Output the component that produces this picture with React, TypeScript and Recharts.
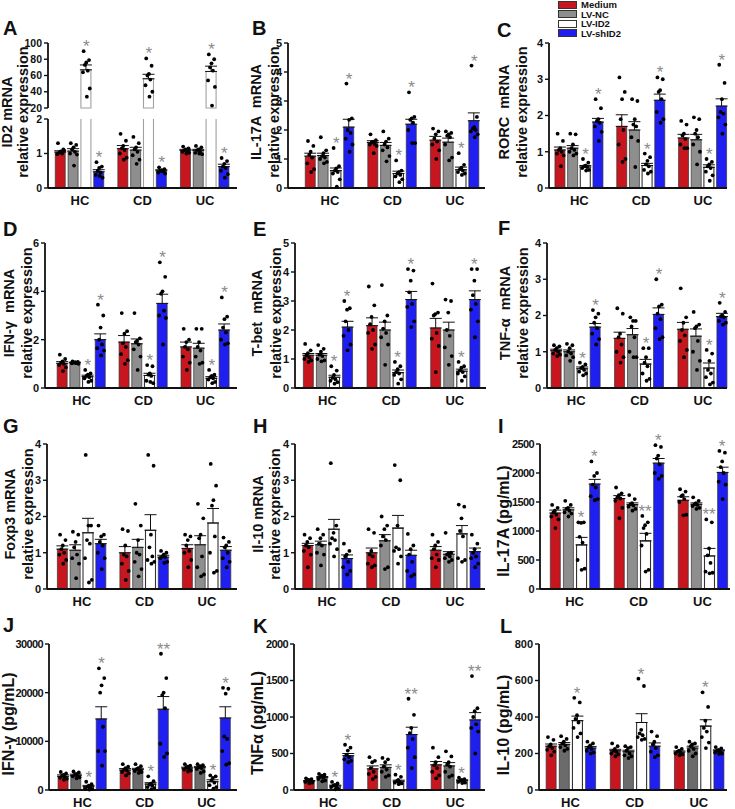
import React from "react";
import { ComposedChart, Bar, Cell, ErrorBar, Scatter, XAxis, YAxis } from "recharts";

const groups = ["HC", "CD", "UC"];
const seriesNames = ["Medium", "LV-NC", "LV-ID2", "LV-shID2"];

// each panel: [group][series] means, SEM, individual points, significance marks

// A  ID2 mRNA
const id2Mean = [[1.04, 1.07, 67, 0.47], [1.14, 1.1, 56, 0.5], [1.09, 1.09, 65, 0.62]];
const id2Sem = [[0.04, 0.07, 6, 0.06], [0.09, 0.08, 5.5, 0.03], [0.03, 0.03, 6.5, 0.07]];
const id2Pts = [
  [[1.3, 1.12, 1.06, 1.03, 1.0, 0.98, 1.08, 1.04], [1.3, 1.25, 1.18, 1.12, 1.05, 1.0, 0.97, 0.65], [90, 79, 76, 73, 66, 64, 44, 34], [0.75, 0.62, 0.58, 0.5, 0.45, 0.38, 0.3, 0.35]],
  [[1.57, 1.37, 1.22, 1.15, 1.1, 1.0, 0.88, 0.82], [1.48, 1.3, 1.18, 1.12, 1.05, 0.95, 0.82, 0.7], [81, 72, 62, 60, 55, 48, 40, 34], [0.6, 0.55, 0.52, 0.5, 0.48, 0.45, 0.42, 0.5]],
  [[1.2, 1.15, 1.12, 1.1, 1.08, 1.05, 1.02, 1.0], [1.22, 1.18, 1.12, 1.1, 1.05, 1.02, 0.98, 1.0], [86, 80, 75, 70, 66, 54, 46, 23], [0.87, 0.78, 0.7, 0.62, 0.58, 0.5, 0.4, 0.3]],
];
const id2Sig = [["", "", "*", "*"], ["", "", "*", "*"], ["", "", "*", "*"]];

// B  IL-17A mRNA
const il17Mean = [[1.1, 1.12, 0.6, 2.1], [1.57, 1.47, 0.5, 2.2], [1.65, 1.58, 0.63, 2.32]];
const il17Sem = [[0.1, 0.08, 0.09, 0.27], [0.06, 0.1, 0.08, 0.17], [0.13, 0.14, 0.09, 0.27]];
const il17Pts = [
  [[1.62, 1.45, 1.25, 1.15, 1.05, 0.85, 0.65, 0.55], [1.75, 1.3, 1.2, 1.1, 1.05, 1.0, 0.9, 0.85], [1.38, 0.75, 0.68, 0.6, 0.55, 0.5, 0.3, 0.05], [3.6, 2.4, 2.35, 2.0, 1.9, 1.7, 1.5, 1.25]],
  [[1.85, 1.65, 1.6, 1.58, 1.52, 1.5, 1.45, 1.2], [1.95, 1.7, 1.6, 1.5, 1.4, 1.3, 1.1, 0.92], [0.95, 0.6, 0.55, 0.5, 0.45, 0.4, 0.3, 0.2], [3.3, 2.45, 2.4, 2.35, 2.25, 2.0, 1.55, 1.55]],
  [[2.05, 1.95, 1.85, 1.7, 1.6, 1.5, 1.3, 1.0], [1.95, 1.9, 1.85, 1.8, 1.75, 1.5, 1.05, 0.95], [1.2, 0.8, 0.7, 0.65, 0.6, 0.55, 0.5, 0.45], [4.22, 2.45, 2.1, 2.05, 2.0, 1.95, 1.85, 1.75]],
];
const il17Sig = [["", "", "*", "*"], ["", "", "*", "*"], ["", "", "*", "*"]];

// C  RORC mRNA
const rorcMean = [[1.05, 1.1, 0.58, 1.82], [1.7, 1.6, 0.62, 2.42], [1.38, 1.33, 0.57, 2.26]];
const rorcSem = [[0.08, 0.07, 0.04, 0.1], [0.32, 0.23, 0.06, 0.17], [0.1, 0.15, 0.07, 0.2]];
const rorcPts = [
  [[1.5, 1.3, 1.1, 1.05, 1.0, 0.95, 0.9, 0.6], [1.5, 1.48, 1.2, 1.1, 1.05, 1.0, 0.95, 0.9], [0.8, 0.7, 0.62, 0.6, 0.58, 0.55, 0.5, 0.48], [2.45, 2.2, 1.9, 1.85, 1.8, 1.7, 1.55, 1.3]],
  [[3.05, 2.65, 2.45, 1.9, 1.6, 1.2, 0.8, 0.72], [2.45, 2.4, 1.9, 1.75, 1.7, 1.4, 1.3, 0.58], [0.95, 0.85, 0.75, 0.65, 0.6, 0.5, 0.45, 0.4], [3.05, 3.0, 2.7, 2.65, 2.45, 2.1, 1.9, 1.8]],
  [[1.85, 1.75, 1.5, 1.45, 1.35, 1.2, 1.1, 1.1], [1.95, 1.9, 1.6, 1.5, 1.4, 1.2, 1.0, 0.65], [0.8, 0.72, 0.65, 0.6, 0.55, 0.45, 0.35, 0.2], [3.4, 2.9, 2.45, 2.1, 2.05, 1.95, 1.75, 1.5]],
];
const rorcSig = [["", "", "*", "*"], ["", "", "*", "*"], ["", "", "*", "*"]];

// D  IFN-γ mRNA
const ifngMean = [[1.02, 1.05, 0.47, 2.0], [1.9, 1.83, 0.52, 3.5], [1.7, 1.65, 0.4, 2.4]];
const ifngSem = [[0.07, 0.02, 0.06, 0.24], [0.27, 0.2, 0.09, 0.38], [0.2, 0.2, 0.07, 0.25]];
const ifngPts = [
  [[1.38, 1.2, 1.1, 1.05, 1.0, 0.95, 0.85, 0.7], [1.1, 1.08, 1.07, 1.05, 1.04, 1.02, 1.0, 1.03], [0.75, 0.6, 0.55, 0.5, 0.45, 0.4, 0.3, 0.25], [3.45, 3.0, 2.5, 2.0, 1.8, 1.65, 1.55, 1.35]],
  [[3.1, 2.35, 2.25, 1.85, 1.7, 1.4, 1.15, 1.0], [3.1, 2.05, 1.95, 1.9, 1.8, 1.6, 1.3, 0.75], [0.95, 0.9, 0.6, 0.55, 0.5, 0.3, 0.2, 0.25], [5.2, 4.6, 4.0, 3.9, 3.2, 3.0, 2.9, 1.8]],
  [[2.45, 2.0, 1.9, 1.7, 1.6, 1.3, 1.05, 0.75], [2.45, 2.45, 1.9, 1.7, 1.55, 1.3, 1.05, 1.0], [0.75, 0.55, 0.5, 0.45, 0.4, 0.35, 0.25, 0.2], [3.75, 2.95, 2.85, 2.5, 2.3, 2.0, 1.85, 1.8]],
];
const ifngSig = [["", "", "*", "*"], ["", "", "*", "*"], ["", "", "*", "*"]];

// E  T-bet mRNA
const tbetMean = [[1.13, 1.13, 0.37, 2.1], [2.15, 2.0, 0.53, 3.05], [2.07, 2.0, 0.58, 3.05]];
const tbetSem = [[0.06, 0.06, 0.07, 0.2], [0.27, 0.27, 0.09, 0.28], [0.33, 0.27, 0.07, 0.3]];
const tbetPts = [
  [[1.52, 1.3, 1.2, 1.12, 1.05, 1.0, 0.95, 0.9], [1.48, 1.35, 1.25, 1.15, 1.1, 1.0, 0.95, 0.92], [0.75, 0.6, 0.45, 0.35, 0.3, 0.25, 0.2, 0.15], [3.0, 2.75, 2.7, 2.3, 2.0, 1.8, 1.5, 1.3]],
  [[3.5, 2.85, 2.45, 2.2, 2.0, 1.9, 1.5, 1.35], [3.55, 2.5, 2.3, 2.05, 1.9, 1.75, 1.5, 0.8], [0.9, 0.75, 0.65, 0.55, 0.5, 0.45, 0.3, 0.15], [4.1, 4.05, 3.7, 3.3, 2.9, 2.8, 2.3, 2.1]],
  [[3.6, 2.6, 2.55, 2.5, 1.9, 1.7, 1.45, 0.55], [3.05, 3.0, 2.6, 2.0, 1.8, 1.4, 1.1, 0.8], [0.9, 0.75, 0.7, 0.6, 0.55, 0.5, 0.4, 0.25], [4.1, 4.1, 3.7, 3.2, 2.9, 2.7, 2.3, 1.75]],
];
const tbetSig = [["", "", "*", "*"], ["", "", "*", "*"], ["", "", "*", "*"]];

// F  TNF-α mRNA
const tnfMean = [[1.03, 1.0, 0.53, 1.68], [1.37, 1.47, 0.66, 2.03], [1.62, 1.43, 0.55, 1.97]];
const tnfSem = [[0.04, 0.05, 0.05, 0.1], [0.17, 0.17, 0.13, 0.18], [0.19, 0.2, 0.14, 0.09]];
const tnfPts = [
  [[1.18, 1.15, 1.1, 1.05, 1.0, 0.95, 0.92, 0.88], [1.22, 1.18, 1.1, 1.0, 0.95, 0.9, 0.85, 0.75], [0.7, 0.65, 0.58, 0.55, 0.5, 0.45, 0.4, 0.35], [2.15, 2.05, 1.95, 1.8, 1.65, 1.5, 1.35, 1.2]],
  [[2.2, 2.05, 1.5, 1.4, 1.2, 1.0, 0.85, 0.7], [1.95, 1.85, 1.85, 1.7, 1.4, 1.0, 0.85, 0.85], [1.1, 1.1, 0.85, 0.7, 0.6, 0.4, 0.25, 0.2], [3.0, 2.3, 2.25, 2.05, 1.9, 1.65, 1.4, 1.35]],
  [[2.75, 1.95, 1.8, 1.6, 1.45, 1.3, 1.05, 0.85], [2.1, 1.75, 1.7, 1.65, 1.3, 1.0, 0.75, 0.5], [1.05, 0.95, 0.75, 0.5, 0.4, 0.3, 0.15, 0.1], [2.35, 2.1, 2.0, 1.98, 1.95, 1.85, 1.8, 1.75]],
];
const tnfSig = [["", "", "*", "*"], ["", "", "*", "*"], ["", "", "*", "*"]];

// G  Foxp3 mRNA
const foxp3Mean = [[1.1, 1.07, 1.55, 1.25], [1.0, 1.15, 1.62, 0.88], [1.12, 1.22, 1.82, 1.07]];
const foxp3Sem = [[0.09, 0.15, 0.4, 0.12], [0.17, 0.22, 0.43, 0.05], [0.1, 0.25, 0.4, 0.1]];
const foxp3Pts = [
  [[1.5, 1.35, 1.2, 1.1, 1.0, 0.95, 0.8, 0.7], [1.58, 1.5, 1.3, 1.15, 0.95, 0.85, 0.7, 0.3], [3.7, 1.75, 1.75, 1.35, 1.25, 0.85, 0.25, 0.18], [1.75, 1.5, 1.45, 1.3, 1.2, 1.0, 0.85, 0.55]],
  [[1.65, 1.6, 1.2, 0.95, 0.9, 0.7, 0.5, 0.25], [2.35, 1.75, 1.35, 1.0, 0.95, 0.75, 0.55, 0.35], [3.7, 3.4, 1.5, 1.15, 0.9, 0.8, 0.75, 0.7], [1.05, 1.0, 0.95, 0.9, 0.88, 0.85, 0.75, 0.72]],
  [[1.5, 1.45, 1.35, 1.2, 1.05, 1.0, 0.8, 0.6], [2.35, 1.95, 1.5, 1.4, 0.9, 0.6, 0.4, 0.35], [3.45, 2.85, 2.45, 2.3, 1.45, 1.0, 0.5, 0.45], [1.42, 1.3, 1.2, 1.15, 1.0, 0.85, 0.75, 0.6]],
];
const foxp3Sig = [["", "", "", ""], ["", "", "", ""], ["", "", "", ""]];

// H  Il-10 mRNA
const il10mMean = [[1.2, 1.22, 1.65, 0.84], [1.0, 1.33, 1.68, 0.93], [1.07, 0.96, 1.52, 1.03]];
const il10mSem = [[0.06, 0.1, 0.27, 0.1], [0.13, 0.17, 0.35, 0.14], [0.1, 0.07, 0.23, 0.1]];
const il10mPts = [
  [[1.5, 1.4, 1.3, 1.2, 1.15, 1.05, 0.95, 0.6], [1.65, 1.5, 1.4, 1.25, 1.2, 1.0, 0.95, 0.65], [3.47, 1.75, 1.55, 1.4, 1.35, 1.25, 1.1, 0.9], [1.25, 1.05, 0.95, 0.9, 0.75, 0.6, 0.5, 0.4]],
  [[1.65, 1.55, 1.05, 0.95, 0.9, 0.7, 0.65, 0.6], [2.0, 1.75, 1.65, 1.45, 1.35, 1.2, 0.6, 0.55], [3.42, 3.0, 1.75, 1.15, 1.1, 1.05, 0.9, 0.7], [1.52, 1.2, 1.1, 0.95, 0.75, 0.5, 0.4, 0.35]],
  [[1.5, 1.3, 1.2, 1.1, 0.95, 0.85, 0.8, 0.6], [1.55, 1.0, 0.98, 0.95, 0.9, 0.85, 0.8, 0.75], [2.33, 2.27, 1.95, 1.6, 1.45, 0.85, 0.8, 0.75], [1.5, 1.25, 1.1, 1.0, 0.9, 0.85, 0.7, 0.6]],
];
const il10mSig = [["", "", "", ""], ["", "", "", ""], ["", "", "", ""]];

// I  IL-17A (pg/mL)
const il17pMean = [[1310, 1365, 760, 1810], [1560, 1455, 830, 2170], [1530, 1460, 570, 2010]];
const il17pSem = [[50, 35, 130, 80], [50, 30, 130, 80], [60, 25, 130, 90]];
const il17pPts = [
  [[1450, 1400, 1350, 1320, 1280, 1250, 1200, 1050], [1520, 1450, 1400, 1380, 1350, 1320, 1300, 1250], [1150, 1150, 1140, 900, 800, 500, 350, 330], [2200, 2000, 1950, 1800, 1750, 1600, 1550, 1530]],
  [[1750, 1650, 1620, 1580, 1560, 1520, 1400, 1220], [1620, 1550, 1480, 1460, 1440, 1420, 1380, 1350], [1260, 1150, 1100, 1050, 950, 750, 330, 300], [2480, 2450, 2300, 2250, 2150, 2000, 1950, 1900]],
  [[1720, 1680, 1620, 1600, 1550, 1500, 1280, 1270], [1580, 1520, 1480, 1460, 1450, 1430, 1400, 1380], [1200, 1150, 700, 580, 450, 300, 280, 270], [2380, 2350, 2200, 2100, 2000, 1850, 1800, 1550]],
];
const il17pSig = [["", "", "*", "*"], ["", "", "**", "*"], ["", "", "**", "*"]];

// J  IFN-γ (pg/mL)
const ifngpMean = [[2800, 3000, 700, 14600], [4100, 4200, 1200, 16600], [4500, 4600, 1700, 14800]];
const ifngpSem = [[300, 250, 250, 2500], [300, 250, 300, 2600], [200, 250, 400, 2300]];
const ifngpPts = [
  [[3700, 3400, 3100, 2900, 2700, 2500, 2300, 2100], [3800, 3600, 3300, 3100, 2900, 2800, 2600, 2400], [1700, 1200, 900, 700, 500, 300, 200, 100], [25000, 23000, 21500, 20000, 13000, 8000, 8000, 5000]],
  [[5300, 4800, 4500, 4200, 4000, 3700, 3400, 3000], [5300, 4900, 4500, 4300, 4100, 3900, 3700, 3500], [2800, 1800, 1300, 1100, 900, 600, 400, 200], [28000, 23000, 20000, 19500, 16800, 9500, 7500, 6800]],
  [[5300, 5000, 4800, 4600, 4400, 4200, 4000, 3800], [5300, 5100, 4900, 4700, 4500, 4300, 3800, 3500], [3000, 2800, 2500, 2000, 1500, 1000, 600, 300], [21000, 20800, 19800, 11000, 10500, 8000, 5500, 5200]],
];
const ifngpSig = [["", "", "*", "*"], ["", "", "*", "**"], ["", "", "*", "*"]];

// K  TNFα (pg/mL)
const tnfpMean = [[120, 170, 55, 470], [290, 310, 120, 760], [345, 330, 130, 960]];
const tnfpSem = [[10, 15, 12, 30], [40, 35, 15, 100], [45, 45, 10, 100]];
const tnfpPts = [
  [[160, 150, 140, 130, 120, 110, 100, 90], [220, 210, 195, 180, 170, 150, 130, 120], [110, 90, 70, 60, 50, 40, 20, 10], [620, 580, 540, 480, 450, 420, 400, 380]],
  [[450, 400, 380, 300, 250, 220, 180, 150], [440, 420, 380, 320, 280, 250, 200, 180], [210, 180, 140, 120, 110, 100, 90, 80], [1250, 1030, 850, 780, 700, 580, 450, 300]],
  [[580, 450, 380, 340, 300, 250, 200, 160], [530, 460, 380, 350, 320, 250, 200, 180], [170, 150, 140, 130, 125, 110, 100, 95], [1560, 1120, 1080, 1000, 900, 850, 800, 500]],
];
const tnfpSig = [["", "", "*", "*"], ["", "", "*", "**"], ["", "", "*", "**"]];

// L  IL-10 (pg/mL)
const il10pMean = [[240, 250, 380, 230], [215, 210, 370, 240], [208, 230, 350, 215]];
const il10pSem = [[12, 10, 25, 8], [8, 8, 48, 18], [6, 10, 35, 5]];
const il10pPts = [
  [[290, 275, 250, 240, 230, 220, 210, 190], [295, 280, 265, 255, 245, 235, 225, 215], [505, 480, 410, 390, 370, 340, 310, 290], [265, 255, 245, 235, 225, 215, 205, 200]],
  [[255, 240, 225, 215, 210, 200, 195, 185], [240, 235, 230, 215, 200, 190, 185, 175], [610, 570, 330, 310, 300, 290, 280, 275], [320, 295, 265, 250, 230, 210, 190, 180]],
  [[235, 225, 215, 210, 205, 200, 195, 190], [265, 255, 250, 240, 225, 215, 200, 185], [535, 455, 380, 340, 320, 290, 260, 230], [235, 228, 220, 215, 210, 205, 200, 198]],
];
const il10pSig = [["", "", "*", ""], ["", "", "*", ""], ["", "", "*", ""]];

const RED = "#c8161e";
const GRAY = "#8e8e8e";
const DARK_GRAY = "#6b6b6b";
const BLUE = "#1f1ff2";
const STAR = "#8a8a8a";
const INK = "#111";
const FONT = "'Liberation Sans', Arial, sans-serif";

const STEP = 0.205; // distance between neighbouring bars, in group units
const JIT = [-0.3, 0.3, 0, -0.16, 0.16, -0.38, 0.38, 0.06];

function buildData(mean, sem, pts, sig, gray, keep, showErr) {
  const colors = [RED, gray, "#ffffff", BLUE];
  const bars = [];
  const dots = [];
  const stars = [];
  groups.forEach((_, g) => {
    seriesNames.forEach((__, s) => {
      const x = g + (s - 1.5) * STEP;
      const on = keep.includes(s);
      bars.push({
        x,
        mean: on ? mean[g][s] : null,
        err: on && showErr.includes(s) ? [0, sem[g][s]] : null,
        fill: colors[s],
      });
      if (!on || !showErr.includes(s)) return;
      pts[g][s].forEach((y, i) => dots.push({ x: x + JIT[i % JIT.length] * STEP * 0.7, y }));
      if (sig[g][s]) {
        stars.push({ x, y: Math.max(...pts[g][s], mean[g][s] + sem[g][s]), label: sig[g][s] });
      }
    });
  });
  return { bars, dots, stars };
}

const Dot = (p) => <circle cx={p.cx} cy={p.cy} r={1.9} fill="#000" />;
const Star = (p) => (
  <text x={p.cx} y={p.cy + 1} textAnchor="middle" fontSize={17} fill={STAR} fontFamily={FONT}>
    {p.payload.label}
  </text>
);

function Panel({ cfg }) {
  const { x0, x1, y0, y1, lo, hi, domain, ticks, hideX, d, overflow, idStroke, tickSize } = cfg;
  const left = 46;
  const top = 14;
  const xh = 22;
  const right = 4;
  const width = left + (x1 - x0) + right;
  const height = top + (y1 - y0) + (hideX ? 8 : xh);
  const big = domain[1] >= 1000;
  return (
    <div style={{ position: "absolute", left: x0 - left, top: y0 - top }}>
      <ComposedChart
        width={width}
        height={height}
        data={d.bars}
        margin={{ top, right, left: 0, bottom: hideX ? 8 : 0 }}
      >
        <XAxis
          type="number"
          dataKey="x"
          domain={[lo, hi]}
          ticks={[0, 1, 2]}
          interval={0}
          tickFormatter={(v) => groups[v]}
          tickLine={false}
          hide={hideX}
          height={xh}
          axisLine={{ stroke: INK, strokeWidth: 2 }}
          tick={{ fontSize: 13, fontWeight: 700, fill: INK }}
        />
        <XAxis xAxisId="pts" type="number" dataKey="x" domain={[lo, hi]} hide />
        <YAxis
          type="number"
          domain={domain}
          ticks={ticks}
          interval={0}
          allowDataOverflow={!!overflow}
          width={left}
          tickSize={4}
          axisLine={{ stroke: INK, strokeWidth: 1.8 }}
          tickLine={{ stroke: INK, strokeWidth: 1.4 }}
          tick={{ fontSize: tickSize || 11, fontWeight: 700, fill: INK, letterSpacing: big ? -0.6 : 0 }}
        />
        <Bar dataKey="mean" barSize={10} isAnimationActive={false}>
          {d.bars.map((b, i) => (
            <Cell
              key={i}
              fill={b.fill}
              stroke={b.fill === "#ffffff" ? idStroke || "#333" : "#333"}
              strokeWidth={b.fill === "#ffffff" ? 1.1 : 0.7}
            />
          ))}
          <ErrorBar dataKey="err" width={6} stroke={INK} strokeWidth={1} direction="y" />
        </Bar>
        <Scatter xAxisId="pts" data={d.dots} dataKey="y" isAnimationActive={false} shape={Dot} />
        <Scatter xAxisId="pts" data={d.stars} dataKey="y" isAnimationActive={false} shape={Star} />
      </ComposedChart>
    </div>
  );
}

const ALL = [0, 1, 2, 3];
const rows = [43, 243, 444, 644];
const zeros = [188, 388, 589, 790];

const panels = [
  { x0: 48, x1: 237, y0: 43, y1: 108, lo: -0.51, hi: 2.51, domain: [20, 100], ticks: [20, 40, 60, 80, 100], hideX: true, tickSize: 10.5, idStroke: "#a0a0a0", d: buildData(id2Mean, id2Sem, id2Pts, id2Sig, GRAY, [2], [2]) },
  { x0: 48, x1: 237, y0: 119, y1: 188, lo: -0.51, hi: 2.51, domain: [0, 2], ticks: [0, 1, 2], overflow: true, tickSize: 10.5, idStroke: "#a0a0a0", d: buildData(id2Mean, id2Sem, id2Pts, id2Sig, GRAY, ALL, [0, 1, 3]) },
  { x0: 288, x1: 485, y0: rows[0], y1: zeros[0], lo: -0.67, hi: 2.48, domain: [0, 5], ticks: [0, 1, 2, 3, 4, 5], d: buildData(il17Mean, il17Sem, il17Pts, il17Sig, GRAY, ALL, ALL) },
  { x0: 549, x1: 727, y0: rows[0], y1: zeros[0], lo: -0.49, hi: 2.39, domain: [0, 4], ticks: [0, 1, 2, 3, 4], d: buildData(rorcMean, rorcSem, rorcPts, rorcSig, GRAY, ALL, ALL) },
  { x0: 45, x1: 237, y0: rows[1], y1: zeros[1], lo: -0.59, hi: 2.51, domain: [0, 6], ticks: [0, 2, 4, 6], d: buildData(ifngMean, ifngSem, ifngPts, ifngSig, GRAY, ALL, ALL) },
  { x0: 295, x1: 486, y0: rows[1], y1: zeros[1], lo: -0.51, hi: 2.49, domain: [0, 5], ticks: [0, 1, 2, 3, 4, 5], d: buildData(tbetMean, tbetSem, tbetPts, tbetSig, GRAY, ALL, ALL) },
  { x0: 547, x1: 727, y0: rows[1], y1: zeros[1], lo: -0.46, hi: 2.38, domain: [0, 4], ticks: [0, 1, 2, 3, 4], d: buildData(tnfMean, tnfSem, tnfPts, tnfSig, GRAY, ALL, ALL) },
  { x0: 47, x1: 237, y0: rows[2], y1: zeros[2], lo: -0.56, hi: 2.48, domain: [0, 4], ticks: [0, 1, 2, 3, 4], d: buildData(foxp3Mean, foxp3Sem, foxp3Pts, foxp3Sig, GRAY, ALL, ALL) },
  { x0: 295, x1: 485, y0: rows[2], y1: zeros[2], lo: -0.5, hi: 2.47, domain: [0, 4], ticks: [0, 1, 2, 3, 4], d: buildData(il10mMean, il10mSem, il10mPts, il10mSig, GRAY, ALL, ALL) },
  { x0: 540, x1: 730, y0: rows[2], y1: zeros[2], lo: -0.54, hi: 2.43, domain: [0, 2500], ticks: [0, 500, 1000, 1500, 2000, 2500], d: buildData(il17pMean, il17pSem, il17pPts, il17pSig, GRAY, ALL, ALL) },
  { x0: 49, x1: 237, y0: rows[3], y1: zeros[3], lo: -0.54, hi: 2.49, domain: [0, 30000], ticks: [0, 10000, 20000, 30000], d: buildData(ifngpMean, ifngpSem, ifngpPts, ifngpSig, DARK_GRAY, ALL, ALL) },
  { x0: 294, x1: 485, y0: rows[3], y1: zeros[3], lo: -0.54, hi: 2.47, domain: [0, 2000], ticks: [0, 500, 1000, 1500, 2000], d: buildData(tnfpMean, tnfpSem, tnfpPts, tnfpSig, DARK_GRAY, ALL, ALL) },
  { x0: 539, x1: 727, y0: rows[3], y1: zeros[3], lo: -0.49, hi: 2.44, domain: [0, 800], ticks: [0, 200, 400, 600, 800], d: buildData(il10pMean, il10pSem, il10pPts, il10pSig, DARK_GRAY, ALL, ALL) },
];

const letters = [
  ["A", 3, 35], ["B", 252, 35], ["C", 497, 37],
  ["D", 3, 236], ["E", 253, 236], ["F", 498, 235],
  ["G", 3, 433], ["H", 253, 433], ["I", 498, 433],
  ["J", 3, 632], ["K", 253, 633], ["L", 500, 633],
];

// [text, centre x, centre y, font size]
const titles = [
  ["ID2 mRNA", 7, 112, 14.5], ["relative expression", 23, 112, 14.5],
  ["IL-17A  mRNA", 256, 112, 14.5], ["relative expression", 274, 112, 14.5],
  ["RORC  mRNA", 504, 112, 14.5], ["relative expression", 522, 112, 14.5],
  ["IFN-γ  mRNA", 9, 313, 14.5], ["relative expression", 27, 313, 14.5],
  ["T-bet  mRNA", 257, 313, 14.5], ["relative expression", 276, 313, 14.5],
  ["TNF-α  mRNA", 505, 313, 14.5], ["relative expression", 523, 313, 14.5],
  ["Foxp3 mRNA", 10, 514, 14.5], ["relative expression", 28, 514, 14.5],
  ["Il-10 mRNA", 258, 514, 14.5], ["relative expression", 275, 514, 14.5],
  ["IL-17A (pg/mL)", 504, 521, 16],
  ["IFN-γ (pg/mL)", 9, 724, 16],
  ["TNFα (pg/mL)", 258, 723, 16],
  ["IL-10 (pg/mL)", 504, 725, 16],
];

const legendFill = [RED, GRAY, "#ffffff", BLUE];

export default function App() {
  return (
    <div style={{ position: "absolute", left: 0, top: 0, width: 735, height: 809, background: "#fff", fontFamily: FONT, color: INK, overflow: "hidden" }}>
      {panels.map((p, i) => (
        <Panel key={i} cfg={p} />
      ))}
      {letters.map(([t, x, b]) => (
        <div key={t} style={{ position: "absolute", left: x, top: b - 17, fontSize: 20, lineHeight: "20px", fontWeight: 700 }}>
          {t}
        </div>
      ))}
      {titles.map(([t, x, y, fs], i) => (
        <div
          key={i}
          style={{
            position: "absolute",
            left: x,
            top: y,
            fontSize: fs,
            lineHeight: "16px",
            fontWeight: 700,
            whiteSpace: "pre",
            transform: "translate(-50%, -50%) rotate(-90deg)",
          }}
        >
          {t}
        </div>
      ))}
      <div style={{ position: "absolute", left: 558, top: 0 }}>
        {seriesNames.map((n, i) => (
          <div key={n} style={{ display: "flex", alignItems: "center", height: 9.5, fontSize: 9.5, fontWeight: 700 }}>
            <div style={{ width: 17, height: 6, background: legendFill[i], border: "1px solid #333", marginRight: 4 }} />
            <span style={{ lineHeight: "9px" }}>{n}</span>
          </div>
        ))}
      </div>
    </div>
  );
}
